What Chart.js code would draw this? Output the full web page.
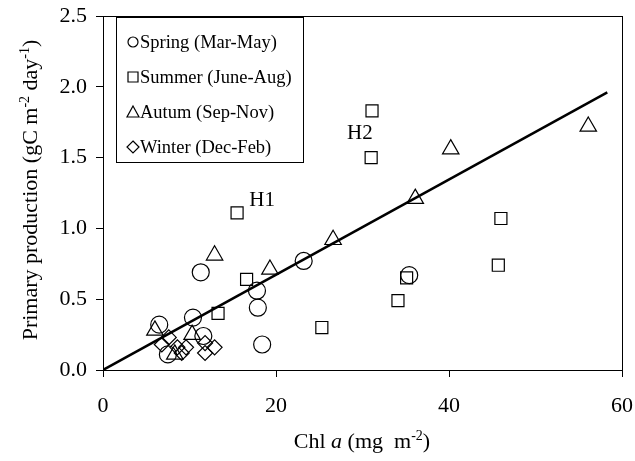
<!DOCTYPE html>
<html>
<head>
<meta charset="utf-8">
<script src="https://cdn.jsdelivr.net/npm/chart.js@4.4.0/dist/chart.umd.min.js"></script>
<style>body{margin:0;background:#fff}</style>
</head>
<body>
<canvas id="chart" width="635" height="461"></canvas>
<script>
// Chl a (x) vs primary production (y), por estación
const springX = [6.5, 10.4, 11.3, 11.6, 7.5, 17.8, 17.9, 18.4, 23.2, 35.4];
const springY = [0.32, 0.37, 0.69, 0.24, 0.11, 0.56, 0.44, 0.18, 0.77, 0.67];
const summerX = [15.5, 31.1, 31.0, 16.6, 13.3, 25.3, 35.1, 34.1, 46.0, 45.7];
const summerY = [1.11, 1.83, 1.50, 0.64, 0.40, 0.30, 0.65, 0.49, 1.07, 0.74];
const autumnX = [56.1, 40.2, 36.1, 26.6, 19.3, 12.9, 6.0, 10.3, 8.3];
const autumnY = [1.72, 1.56, 1.21, 0.92, 0.71, 0.81, 0.28, 0.25, 0.11];
const winterX = [7.6, 6.8, 8.6, 9.6, 11.8, 12.9, 11.8, 9.1];
const winterY = [0.23, 0.18, 0.16, 0.16, 0.19, 0.16, 0.12, 0.12];
const fitX = [0, 58.3];
const fitY = [0, 1.96];
const noteText = ['H1', 'H2'];
const noteX = [18.4, 29.7];
const noteY = [1.20, 1.67];
const xTicks = [0, 20, 40, 60];
const yTicks = [0, 0.5, 1.0, 1.5, 2.0, 2.5];
const seasonNames = ['Spring (Mar-May)', 'Summer (June-Aug)', 'Autum (Sep-Nov)', 'Winter (Dec-Feb)'];

const serif = '"Liberation Serif", "Times New Roman", serif';
const pts = (xs, ys) => xs.map((x, i) => ({x: x, y: ys[i]}));

function marker(style, radius) {
    return {
        type: 'scatter', pointStyle: style, pointRadius: radius, pointHoverRadius: radius,
        pointBorderColor: '#000', pointBackgroundColor: 'rgba(0,0,0,0)', pointBorderWidth: 1.2
    };
}

// dibuja texto con cursiva y superíndices, centrado en (x, y)
function drawRich(ctx, parts, x, y, size) {
    const fontOf = p => (p.italic ? 'italic ' : '') + (p.sup ? Math.round(size * 0.65) : size) + 'px ' + serif;
    let total = 0;
    parts.forEach(p => { ctx.font = fontOf(p); total += ctx.measureText(p.t).width; });
    let cx = x - total / 2;
    ctx.textAlign = 'left';
    ctx.textBaseline = 'alphabetic';
    parts.forEach(p => {
        ctx.font = fontOf(p);
        ctx.fillText(p.t, cx, p.sup ? y - size * 0.38 : y);
        cx += ctx.measureText(p.t).width;
    });
}

function legendShape(ctx, kind, x, y) {
    ctx.beginPath();
    if (kind === 0) {
        ctx.arc(x, y, 5, 0, Math.PI * 2);
    } else if (kind === 1) {
        ctx.rect(x - 5, y - 5, 10, 10);
    } else if (kind === 2) {
        ctx.moveTo(x, y - 6); ctx.lineTo(x + 6, y + 5); ctx.lineTo(x - 6, y + 5); ctx.closePath();
    } else {
        ctx.moveTo(x, y - 6); ctx.lineTo(x + 6, y); ctx.lineTo(x, y + 6); ctx.lineTo(x - 6, y); ctx.closePath();
    }
    ctx.stroke();
}

const extras = {
    id: 'extras',
    afterDraw(chart) {
        const ctx = chart.ctx;
        const a = chart.chartArea;
        const sx = chart.scales.x, sy = chart.scales.y;
        ctx.save();
        // marco
        ctx.strokeStyle = '#000';
        ctx.lineWidth = 1;
        ctx.strokeRect(a.left + 0.5, a.top + 0.5, a.right - a.left, a.bottom - a.top);
        // etiquetas H1 / H2
        ctx.fillStyle = '#000';
        ctx.font = '21px ' + serif;
        ctx.textAlign = 'center';
        ctx.textBaseline = 'middle';
        noteText.forEach((t, i) => ctx.fillText(t, sx.getPixelForValue(noteX[i]), sy.getPixelForValue(noteY[i])));
        // leyenda
        ctx.strokeRect(116.5, 17.5, 187, 145);
        ctx.lineWidth = 1.2;
        ctx.font = '18.5px ' + serif;
        ctx.textAlign = 'left';
        seasonNames.forEach((name, i) => {
            const y = 42 + i * 35;
            legendShape(ctx, i, 133, y);
            ctx.fillText(name, 140, y + 1);
        });
        // títulos de ejes
        drawRich(ctx, [{t: 'Chl '}, {t: 'a', italic: true}, {t: ' (mg  m'}, {t: '-2', sup: true}, {t: ')'}],
            362, 448, 22);
        ctx.translate(37, 190);
        ctx.rotate(-Math.PI / 2);
        drawRich(ctx, [{t: 'Primary production (gC m'}, {t: '-2', sup: true}, {t: ' day'}, {t: '-1', sup: true}, {t: ')'}],
            0, 0, 22);
        ctx.restore();
    }
};

new Chart(document.getElementById('chart'), {
    data: {
        datasets: [
            Object.assign(marker('circle', 8.5), {label: seasonNames[0], data: pts(springX, springY)}),
            Object.assign(marker('rect', 8.5), {label: seasonNames[1], data: pts(summerX, summerY)}),
            Object.assign(marker('triangle', 9.5), {label: seasonNames[2], data: pts(autumnX, autumnY)}),
            Object.assign(marker('rectRot', 7.5), {label: seasonNames[3], data: pts(winterX, winterY)}),
            {
                type: 'line', label: 'fit', data: pts(fitX, fitY),
                borderColor: '#000', borderWidth: 2.5, pointRadius: 0, fill: false
            }
        ]
    },
    options: {
        responsive: false,
        animation: false,
        layout: { padding: { top: 16, right: 13, left: 0, bottom: 0 } },
        plugins: { legend: { display: false }, tooltip: { enabled: false } },
        scales: {
            x: {
                type: 'linear', min: 0, max: 60,
                afterBuildTicks: s => { s.ticks = xTicks.map(v => ({value: v})); },
                afterFit: s => { s.height = 91; s.paddingLeft = 0; s.paddingRight = 0; },
                ticks: { color: '#000', font: { family: serif, size: 22 }, padding: 16 },
                grid: { drawOnChartArea: false, tickLength: 7, color: '#000' },
                border: { color: '#000', width: 1 }
            },
            y: {
                type: 'linear', min: 0, max: 2.5,
                afterBuildTicks: s => { s.ticks = yTicks.map(v => ({value: v})); },
                afterFit: s => { s.width = 103; s.paddingTop = 0; s.paddingBottom = 0; },
                ticks: { color: '#000', font: { family: serif, size: 22 }, padding: 9, callback: v => v.toFixed(1) },
                grid: { drawOnChartArea: false, tickLength: 7, color: '#000' },
                border: { color: '#000', width: 1 }
            }
        }
    },
    plugins: [extras]
});
</script>
</body>
</html>
